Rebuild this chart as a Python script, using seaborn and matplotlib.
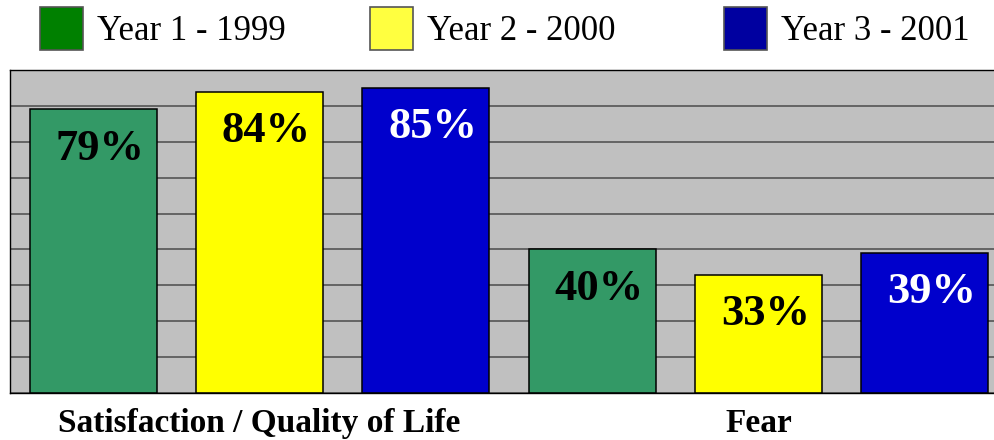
import pandas as pd
import matplotlib.pyplot as plt
import seaborn as sns
from matplotlib.patches import Patch

# chart data
categories = ["Satisfaction / Quality of Life", "Fear"]
years = ["Year 1 - 1999", "Year 2 - 2000", "Year 3 - 2001"]
year1 = [79, 40]
year2 = [84, 33]
year3 = [85, 39]

bar_colors = ["#339966", "#FFFF00", "#0000CC"]
legend_colors = ["#008000", "#FFFF40", "#0000A0"]
label_colors = ["black", "black", "white"]

df = pd.DataFrame({
    "Category": categories * 3,
    "Year": [years[0]] * 2 + [years[1]] * 2 + [years[2]] * 2,
    "Value": year1 + year2 + year3,
})

sns.set_style("white")
plt.rcParams["font.family"] = ["Liberation Serif", "DejaVu Serif"]
plt.rcParams["text.color"] = "black"
plt.rcParams["xtick.color"] = "black"

fig = plt.figure(figsize=(9.94, 4.40), dpi=100)
ax = fig.add_axes([10 / 994, 47 / 440, 998 / 994, 323 / 440])
ax.set_facecolor("#C0C0C0")

sns.barplot(data=df, x="Category", y="Value", hue="Year", order=categories,
            hue_order=years, palette=bar_colors, width=1.0, gap=0.236,
            edgecolor="black", linewidth=1.1, saturation=1, legend=False, ax=ax)

ax.set_ylim(0, 90)
ax.set_xlim(-0.5, 1.5)
ax.set_yticks(range(0, 91, 10))
ax.set_yticklabels([])
ax.yaxis.grid(True, color="#555555", linewidth=1.2)
ax.set_axisbelow(True)
ax.tick_params(axis="both", length=0)
ax.tick_params(axis="x", pad=11)
for lab in ax.get_xticklabels():
    lab.set_fontsize(24)
    lab.set_fontweight("bold")
    lab.set_color("black")
ax.set_xlabel("")
ax.set_ylabel("")
for side in ["top", "left", "bottom"]:
    ax.spines[side].set_color("black")
    ax.spines[side].set_linewidth(1.0)
ax.spines["right"].set_visible(False)

# value labels inside bars
for cont, tc in zip(ax.containers, label_colors):
    for bar in cont:
        h = bar.get_height()
        ax.annotate(f"{h:.0f}%", (bar.get_x() + bar.get_width() / 2, h),
                    xytext=(5, -14), textcoords="offset points",
                    ha="center", va="top", fontsize=32, fontweight="bold",
                    color=tc)

# legend entries across the top
legend_x = [40 / 994, 370 / 994, 724 / 994]
for name, col, lx in zip(years, legend_colors, legend_x):
    fig.legend(handles=[Patch(facecolor=col, edgecolor="#555555", linewidth=1.2)],
               labels=[name], loc="upper left", bbox_to_anchor=(lx, 1 - 7 / 440),
               frameon=False, fontsize=25, handlelength=1.25, handleheight=1.55,
               handletextpad=0.4, borderpad=0, borderaxespad=0,
               labelcolor="black")

fig.savefig("out.png", dpi=100)
